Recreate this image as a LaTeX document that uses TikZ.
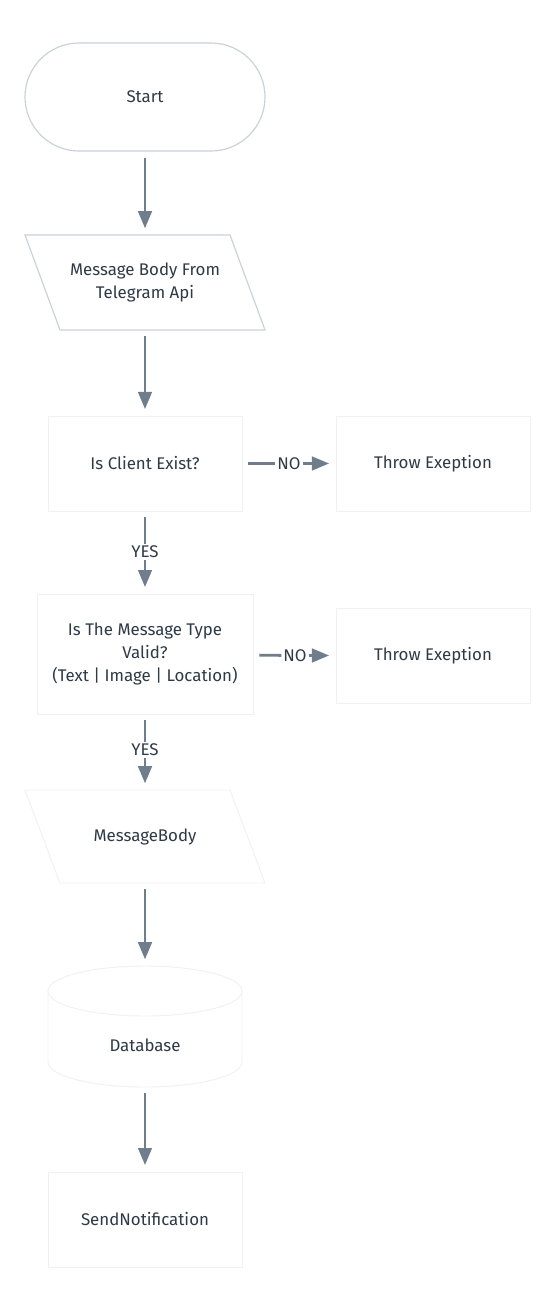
\documentclass[tikz,border=0pt]{standalone}
\usepackage{fontspec}
\setmainfont{Fira Sans}
\usepackage{tikz}
\usetikzlibrary{arrows}
\usetikzlibrary{arrows,positioning}

\definecolor{txtgray}{HTML}{2E3A46}
\definecolor{flowgray}{HTML}{6F7D8C}
\definecolor{edgegray}{HTML}{C9D1DA}
\definecolor{faintgray}{HTML}{F1F1F1}

\tikzset{
  every node/.style={text=txtgray, font=\fontsize{14.4}{20}\selectfont, align=center},
  plainbox/.style={draw=faintgray, line width=0.8pt, fill=white, minimum width=5.82cm, minimum height=2.85cm},
  hidden/.style={minimum width=7.2cm, minimum height=2.85cm},
  lbl/.style={inner sep=1.5pt},
  flow/.style={draw=flowgray, line width=2.4pt, -triangle 45, shorten <=0.18cm, shorten >=0.2cm},
  bare/.style={draw=flowgray, line width=2.4pt, shorten <=0.18cm},
  lead/.style={draw=flowgray, line width=2.4pt, -triangle 45, shorten >=0.2cm},
}

\begin{document}
\begin{tikzpicture}[x=0.03cm, y=-0.03cm]
    \fill[white] (0,0) rectangle (549,1291);
    \useasboundingbox (0,0) rectangle (549,1291);

    \node[draw=edgegray, line width=1pt, rectangle, rounded corners=1.62cm, minimum width=7.2cm, minimum height=3.24cm] (start) at (145,97) {Start};

    \draw[edgegray, line width=1pt] (25,235) -- (230,235) -- (265,330) -- (60,330) -- cycle;
    \node[hidden] (api) at (145,282.5) {Message Body From\\Telegram Api};

    \node[plainbox] (client) at (145,463.5) {Is Client Exist?};
    \node[plainbox] (throwa) at (433,463.5) {Throw Exeption};
    \node[lbl] (noa) at (289,463.5) {NO};
    \node[lbl] (yesa) at (145,552) {YES};

    \node[plainbox, minimum width=6.48cm, minimum height=3.6cm] (valid) at (145,654) {Is The Message Type\\Valid?\\(Text | Image | Location)};
    \node[plainbox] (throwb) at (433,655.5) {Throw Exeption};
    \node[lbl] (nob) at (295,655.5) {NO};
    \node[lbl] (yesb) at (145,750) {YES};

    \draw[faintgray, line width=0.8pt] (25,790) -- (230,790) -- (265,883) -- (60,883) -- cycle;
    \node[hidden, minimum height=2.79cm] (body) at (145,836.5) {MessageBody};

    \draw[faintgray, line width=0.8pt] (145,991) ellipse [x radius=2.91cm, y radius=0.75cm];
    \draw[faintgray, line width=0.8pt] (48,991) -- (48,1062) arc [start angle=180, end angle=360, x radius=2.91cm, y radius=0.75cm] -- (242,991);
    \node[minimum width=5.82cm, minimum height=3.63cm] (db) at (145,1026.5) {};
    \node (dbtext) at (145,1045) {Database};

    \node[plainbox] (notify) at (145,1219.5) {SendNotification};

    \draw[flow] (start) -- (api);
    \draw[flow] (api) -- (client);
    \draw[bare] (client) -- (noa);
    \draw[lead] (noa) -- (throwa);
    \draw[bare] (client) -- (yesa);
    \draw[lead] (yesa) -- (valid);
    \draw[bare] (valid) -- (nob);
    \draw[lead] (nob) -- (throwb);
    \draw[bare] (valid) -- (yesb);
    \draw[lead] (yesb) -- (body);
    \draw[flow] (body) -- (db);
    \draw[flow] (db) -- (notify);
  \end{tikzpicture}
\end{document}
